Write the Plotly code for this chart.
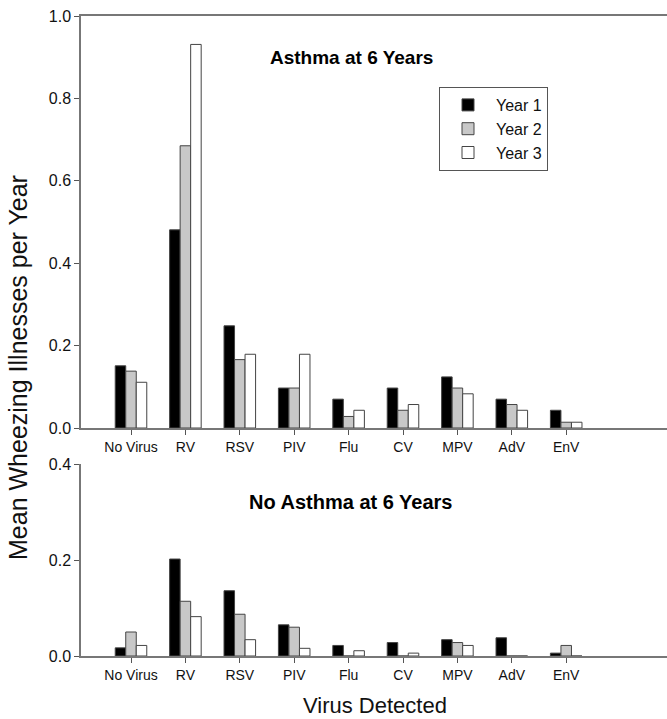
import plotly.graph_objects as go

categories = ["No Virus", "RV", "RSV", "PIV", "Flu", "CV", "MPV", "AdV", "EnV"]
years = ["Year 1", "Year 2", "Year 3"]

asthma_y1 = [0.151, 0.481, 0.248, 0.097, 0.070, 0.097, 0.124, 0.070, 0.043]
asthma_y2 = [0.138, 0.685, 0.166, 0.097, 0.028, 0.043, 0.097, 0.057, 0.014]
asthma_y3 = [0.111, 0.931, 0.179, 0.179, 0.043, 0.057, 0.083, 0.043, 0.014]

noasthma_y1 = [0.017, 0.202, 0.136, 0.065, 0.022, 0.028, 0.034, 0.038, 0.006]
noasthma_y2 = [0.050, 0.114, 0.087, 0.060, 0.000, 0.000, 0.028, 0.000, 0.022]
noasthma_y3 = [0.022, 0.082, 0.034, 0.016, 0.011, 0.006, 0.022, 0.000, 0.000]

top_ticks = [0.0, 0.2, 0.4, 0.6, 0.8, 1.0]
bottom_ticks = [0.0, 0.2, 0.4]

fills = ["#000000", "#c8c8c8", "#ffffff"]
FONT = "Liberation Sans, Arial, sans-serif"

fig = go.Figure()
for name, vals, col in zip(years, [asthma_y1, asthma_y2, asthma_y3], fills):
    fig.add_trace(go.Bar(x=categories, y=vals, name=name, marker=dict(color=col, line=dict(color="#444444", width=1)),
                         xaxis="x", yaxis="y", showlegend=True))
for name, vals, col in zip(years, [noasthma_y1, noasthma_y2, noasthma_y3], fills):
    fig.add_trace(go.Bar(x=categories, y=vals, name=name, marker=dict(color=col, line=dict(color="#444444", width=1)),
                         xaxis="x2", yaxis="y2", showlegend=False))

W, H = 667, 719
ml, mr, mt, mb = 81, 0, 16, 63
ph = H - mt - mb
pw = W - ml - mr
spacing = 54.4
x0 = -(131 - ml) / spacing
xr = [x0, x0 + pw / spacing]

def py(p):
    return (H - mb - p) / ph

def px(p):
    return (p - ml) / pw

axis_common = dict(showline=True, linecolor="#777777", linewidth=1.5, ticks="outside", ticklen=5,
                   tickcolor="#555555", showgrid=False, zeroline=False)
xfont = dict(family=FONT, size=14, color="#111111")
yfont = dict(family=FONT, size=16, color="#111111")

top_dom = [py(428), 1.0]
bot_dom = [0.0, py(464)]

fig.update_layout(
    width=W, height=H,
    margin=dict(l=ml, r=mr, t=mt, b=mb),
    paper_bgcolor="white", plot_bgcolor="white",
    barmode="group", bargap=0.42, bargroupgap=0.0,
    font=dict(family=FONT, color="#111111"),
    xaxis=dict(axis_common, domain=[0, 1], anchor="y", range=xr, categoryorder="array",
               categoryarray=categories, mirror=True, tickfont=xfont),
    yaxis=dict(axis_common, domain=top_dom, anchor="x", range=[0, 1.0], tickvals=top_ticks,
               ticktext=[f"{v:.1f}" for v in top_ticks], tickfont=yfont),
    xaxis2=dict(axis_common, domain=[0, 1], anchor="y2", range=xr, categoryorder="array",
                categoryarray=categories, tickfont=xfont),
    yaxis2=dict(axis_common, domain=bot_dom, anchor="x2", range=[0, 0.4], tickvals=bottom_ticks,
                ticktext=[f"{v:.1f}" for v in bottom_ticks], tickfont=yfont),
    legend=dict(x=px(439), y=py(87), xanchor="left", yanchor="top",
                bordercolor="#555555", borderwidth=1, bgcolor="white", itemwidth=46,
                font=dict(family=FONT, size=16, color="#111111"), tracegroupgap=0),
    annotations=[
        dict(text="<b>Asthma at 6 Years</b>", xref="paper", yref="paper",
             x=px(351), y=py(57), xanchor="center", yanchor="middle", showarrow=False,
             font=dict(family=FONT, size=19, color="#000000")),
        dict(text="<b>No Asthma at 6 Years</b>", xref="paper", yref="paper",
             x=px(350), y=py(502), xanchor="center", yanchor="middle", showarrow=False,
             font=dict(family=FONT, size=20, color="#000000")),
        dict(text="Mean Wheezing Illnesses per Year", xref="paper", yref="paper",
             x=px(18), y=py(368), xanchor="center", yanchor="middle", textangle=-90, showarrow=False,
             font=dict(family=FONT, size=25, color="#111111")),
        dict(text="Virus Detected", xref="paper", yref="paper",
             x=px(375), y=py(705), xanchor="center", yanchor="middle", showarrow=False,
             font=dict(family=FONT, size=22, color="#111111")),
    ],
)

fig.write_html("out.html", config={"displayModeBar": False},
               post_script="document.body.style.margin='0';document.body.style.padding='0';")
